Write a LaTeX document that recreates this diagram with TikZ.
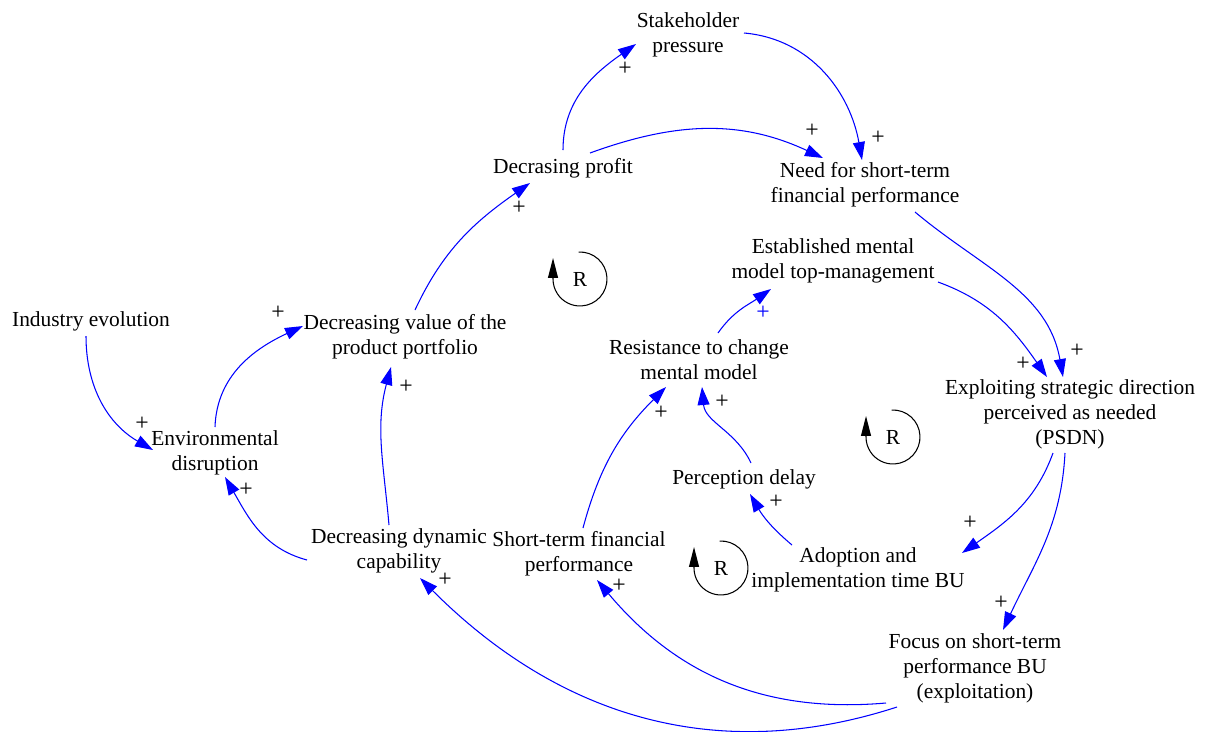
\documentclass[tikz,border=0pt]{standalone}
\usepackage{fontspec}
\setmainfont{Liberation Serif}
\usetikzlibrary{arrows.meta,calc}
\begin{document}
\begin{tikzpicture}[x=0.02cm,y=0.02cm,
  lbl/.style={align=center,inner sep=0pt,font=\fontsize{12.2}{14.2}\selectfont},
  pl/.style={inner sep=0pt,font=\fontsize{13.5}{15}\selectfont},
  lnk/.style={draw=blue,line width=0.6pt,-{Triangle[length=0.36cm,width=0.24cm]}},
  rloop/.style={draw=black,line width=0.6pt,-{Triangle[length=0.4cm,width=0.2cm]}}]
\useasboundingbox (0,0) rectangle (1208,-731);

% variables
\node[lbl] (sp) at (688,-35) {Stakeholder\\pressure};
\node[lbl] (dp) at (563,-168) {Decrasing profit};
\node[lbl] (nf) at (865,-185) {Need for short-term\\financial performance};
\node[lbl] (em) at (833,-261) {Established mental\\model top-management};
\node[lbl] (ie) at (91,-321) {Industry evolution};
\node[lbl] (dv) at (405,-337) {Decreasing value of the\\product portfolio};
\node[lbl] (rc) at (699,-360) {Resistance to change\\mental model};
\node[lbl] (ex) at (1070,-414) {Exploiting strategic direction\\perceived as needed\\(PSDN)};
\node[lbl] (ed) at (215,-453) {Environmental\\disruption};
\node[lbl] (pd) at (744,-479) {Perception delay};
\node[lbl] (dd) at (399,-551) {Decreasing dynamic\\capability};
\node[lbl] (sf) at (579,-554) {Short-term financial\\performance};
\node[lbl] (ad) at (858,-570) {Adoption and\\implementation time BU};
\node[lbl] (fo) at (975,-668) {Focus on short-term\\performance BU\\(exploitation)};

% loop markers
\node[lbl] (r1) at (580,-279) {R};
\node[lbl] (r2) at (893,-437) {R};
\node[lbl] (r3) at (721,-568) {R};
\foreach \r in {r1,r2,r3}{
  \draw[rloop] ([shift={(93:27)}]\r.center) arc[start angle=93,end angle=-180,radius=0.54cm] -- ++(0,21);
}

% links
\draw[lnk] ([shift={(0,18)}]dp.center) to[out=90,in=215] ([shift={(-52,-9)}]sp.center);
\draw[lnk] ([shift={(56,2)}]sp.center) to[out=-5,in=100] ([shift={(-3,25)}]nf.center);
\draw[lnk] ([shift={(27,15)}]dp.center) to[out=20,in=155] ([shift={(-42,27)}]nf.center);
\draw[lnk] ([shift={(50,-27)}]nf.center) to[out=-40,in=100] ([shift={(-7,37)}]ex.center);
\draw[lnk] ([shift={(105,-21)}]em.center) to[out=-20,in=125] ([shift={(-23,37)}]ex.center);
\draw[lnk] ([shift={(-17,-39)}]ex.center) to[out=-110,in=35] ([shift={(104,17)}]ad.center);
\draw[lnk] ([shift={(-5,-39)}]ex.center) to[out=-93,in=65] ([shift={(28,38)}]fo.center);
\draw[lnk] ([shift={(-89,-35)}]fo.center) to[out=185,in=-50] ([shift={(18,-26)}]sf.center);
\draw[lnk] ([shift={(-78,-39)}]fo.center) to[out=198,in=-45] ([shift={(21,-27)}]dd.center);
\draw[lnk] ([shift={(-66,25)}]ad.center) to[out=140,in=-60] ([shift={(6,-15)}]pd.center);
\draw[lnk] ([shift={(7,16)}]pd.center) to[out=115,in=-85] ([shift={(3,-27)}]rc.center);
\draw[lnk] ([shift={(4,26)}]sf.center) to[out=75,in=225] ([shift={(-33,-27)}]rc.center);
\draw[lnk] ([shift={(19,27)}]rc.center) to[out=55,in=215] ([shift={(-62,-28)}]em.center);
\draw[lnk] ([shift={(-10,26)}]dd.center) to[out=95,in=255] ([shift={(-14,-30)}]dv.center);
\draw[lnk] ([shift={(-92,-9)}]dd.center) to[out=165,in=-60] ([shift={(10,-24)}]ed.center);
\draw[lnk] ([shift={(-5,-15)}]ie.center) to[out=-90,in=150] ([shift={(-62,3)}]ed.center);
\draw[lnk] ([shift={(0,26)}]ed.center) to[out=88,in=205] ([shift={(-102,11)}]dv.center);
\draw[lnk] ([shift={(10,27)}]dv.center) to[out=65,in=215] ([shift={(-33,-15)}]dp.center);

% polarities
\node[pl] (s1) at (625,-69) {+};
\node[pl] (s2) at (878,-138) {+};
\node[pl] (s3) at (812,-131) {+};
\node[pl] (s4) at (1077,-351) {+};
\node[pl] (s5) at (1023,-364) {+};
\node[pl] (s6) at (970,-523) {+};
\node[pl] (s7) at (1001,-603) {+};
\node[pl] (s8) at (619,-586) {+};
\node[pl] (s9) at (445,-580) {+};
\node[pl] (s10) at (776,-502) {+};
\node[pl] (s11) at (722,-402) {+};
\node[pl] (s12) at (661,-413) {+};
\node[pl,text=blue] (s13) at (763,-313) {+};
\node[pl] (s14) at (406,-387) {+};
\node[pl] (s15) at (246,-490) {+};
\node[pl] (s16) at (142,-424) {+};
\node[pl] (s17) at (278,-313) {+};
\node[pl] (s18) at (519,-208) {+};
\end{tikzpicture}
\end{document}
